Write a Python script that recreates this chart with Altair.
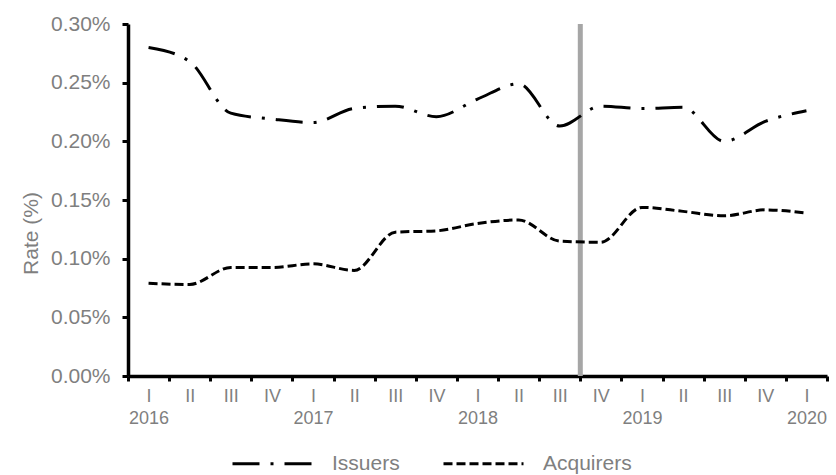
import altair as alt
import pandas as pd

quarters = ["I", "II", "III", "IV", "I", "II", "III", "IV", "I", "II", "III", "IV",
            "I", "II", "III", "IV", "I"]
years = ["2016", "2016", "2016", "2016", "2017", "2017", "2017", "2017",
         "2018", "2018", "2018", "2018", "2019", "2019", "2019", "2019", "2020"]
issuers = [0.280, 0.268, 0.224, 0.219, 0.216, 0.228, 0.230, 0.221, 0.236, 0.249,
           0.213, 0.230, 0.228, 0.229, 0.200, 0.217, 0.226]
acquirers = [0.079, 0.078, 0.0925, 0.0925, 0.0956, 0.090, 0.1226, 0.1237, 0.130,
             0.133, 0.115, 0.114, 0.1437, 0.1403, 0.1365, 0.1416, 0.1388]
series_names = ["Issuers", "Acquirers"]
break_period = "2018-IV"

periods = [f"{y}-{q}" for y, q in zip(years, quarters)]
rows = []
for p, a, b in zip(periods, issuers, acquirers):
    rows.append({"period": p, "series": "Issuers", "value": a})
    rows.append({"period": p, "series": "Acquirers", "value": b})
df = pd.DataFrame(rows)

W, H = 699, 352
gray = "#7f7f7f"
font = "Liberation Sans"

x_scale = alt.Scale(type="band", domain=periods, paddingInner=0, paddingOuter=0)

label_expr = ("split(datum.value,'-')[1] == 'I' ? "
              "[split(datum.value,'-')[1], split(datum.value,'-')[0]] : split(datum.value,'-')[1]")

x_axis = alt.Axis(
    title=None, tickBand="extent", labelAngle=0, labelFont=font, labelFontSize=18,
    labelColor=gray, labelPadding=6, labelLineHeight=22, labelBaseline="top",
    tickSize=5, tickWidth=3, tickColor="black", domainColor="black", domainWidth=3.5,
    labelExpr=label_expr, grid=False,
)
y_axis = alt.Axis(
    title="Rate (%)", values=[0, 0.05, 0.10, 0.15, 0.20, 0.25, 0.30],
    labelExpr="format(datum.value, '.2f') + '%'", labelFont=font, labelFontSize=21,
    labelColor=gray, labelPadding=12, tickSize=6, tickWidth=3, tickColor="black",
    domainColor="black", domainWidth=3.5, grid=False,
    titleFont=font, titleFontSize=21, titleColor=gray, titleFontWeight="normal",
    titleX=-97, titleY=209, titleAngle=270, titleAlign="center", titleBaseline="middle",
)

rule_df = pd.DataFrame({"period": [break_period]})
rule = alt.Chart(rule_df).mark_rule(color="#a6a6a6", strokeWidth=5).encode(
    x=alt.X("period:N", scale=x_scale, bandPosition=0, axis=x_axis),
    y=alt.value(0), y2=alt.value(H),
)

lines = alt.Chart(df).mark_line(color="black", strokeWidth=3, interpolate="monotone").encode(
    x=alt.X("period:N", scale=x_scale, bandPosition=0.5, axis=x_axis),
    y=alt.Y("value:Q", scale=alt.Scale(domain=[0, 0.30], nice=False, zero=True), axis=y_axis),
    strokeDash=alt.StrokeDash(
        "series:N",
        scale=alt.Scale(domain=series_names, range=[[27, 11, 3, 11], [9, 4]]),
        legend=alt.Legend(
            title=None, orient="none", direction="horizontal", legendX=103, legendY=398,
            symbolType="stroke", symbolSize=6400, symbolStrokeWidth=3,
            symbolStrokeColor="black", labelFont=font, labelFontSize=21, labelColor=gray,
            labelOffset=18, columnPadding=37,
        ),
    ),
)

chart = alt.layer(rule, lines).properties(
    width=W, height=H,
    autosize=alt.AutoSizeParams(type="none"),
    padding={"left": 128, "top": 24, "right": 9, "bottom": 99},
).configure(background="white").configure_view(stroke=None)

chart.save("out.html", embed_options={"renderer": "svg", "actions": False})
